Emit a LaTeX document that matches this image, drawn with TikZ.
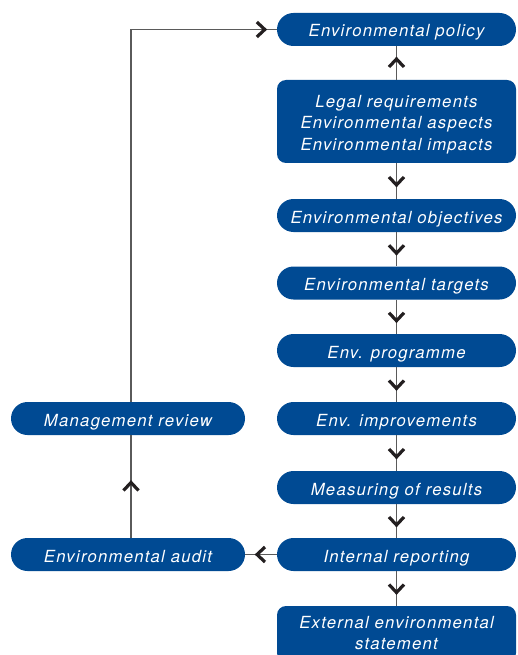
\documentclass[tikz,border=0pt]{standalone}
\usepackage{fontspec}
\usepackage{tikz}
\usetikzlibrary{decorations.markings}

\newfontfamily\envfont{TeX Gyre Heros}[LetterSpace=7.5]
\definecolor{envblue}{RGB}{0,74,147}
\definecolor{linegray}{RGB}{90,90,90}
\definecolor{chevcol}{RGB}{35,31,32}

\newcommand{\chevron}{\draw[chevcol, line width=3.2pt, line join=miter] (-4pt,7.5pt) -- (4pt,0pt) -- (-4pt,-7.5pt);}

\begin{document}
\begin{tikzpicture}[
		x=1pt, y=-1pt,
		box/.style = {fill=envblue, text=white, minimum width=239pt, inner sep=2pt, text depth=0pt,
			font=\envfont\itshape\fontsize{16.7pt}{21.5pt}\selectfont},
		stage/.style = {box, rounded corners=16.5pt, minimum height=33pt, text height=15pt},
		sidestage/.style = {stage, minimum width=234pt},
		block/.style = {box, rounded corners=9pt, align=center},
		flow/.style = {draw=linegray, line width=1.1pt,
			postaction={decorate, decoration={markings, mark=at position #1 with {\chevron}}}},
		flow/.default = 0.5
			]
		\useasboundingbox (0,0) rectangle (517,655);

		% main column
		\node[stage] (policy) at (396.5,29.5) {Environmental policy};
		\node[block, minimum height=83pt, text height=57pt] (legal) at (396.5,121.5) {Legal requirements\\Environmental aspects\\Environmental impacts};
		\node[stage] (objectives) at (396.5,215.5) {Environmental objectives};
		\node[stage] (targets) at (396.5,283) {Environmental targets};
		\node[stage] (programme) at (396.5,350.5) {Env. programme};
		\node[stage] (improvements) at (396.5,418.5) {Env. improvements};
		\node[stage] (measuring) at (396.5,487.5) {Measuring of results};
		\node[stage] (internal) at (396.5,554.5) {Internal reporting};
		\node[block, minimum height=56pt, text height=31pt] (external) at (396.5,634) {External environmental\\statement};

		% feedback column
		\node[sidestage] (review) at (128,418.5) {Management review};
		\node[sidestage] (audit) at (128,554.5) {Environmental audit};

		\draw[flow] (legal) -- (policy);
		\draw[flow] (legal) -- (objectives);
		\draw[flow] (objectives) -- (targets);
		\draw[flow] (targets) -- (programme);
		\draw[flow] (programme) -- (improvements);
		\draw[flow] (improvements) -- (measuring);
		\draw[flow] (measuring) -- (internal);
		\draw[flow] (internal) -- (external);

		\draw[flow] (internal) -- (audit);
		\draw[flow] ([xshift=3pt]audit.north) -- ([xshift=3pt]review.south);
		\draw[flow=-16pt] ([xshift=3pt]review.north) |- (policy.west);

	\end{tikzpicture}
\end{document}
